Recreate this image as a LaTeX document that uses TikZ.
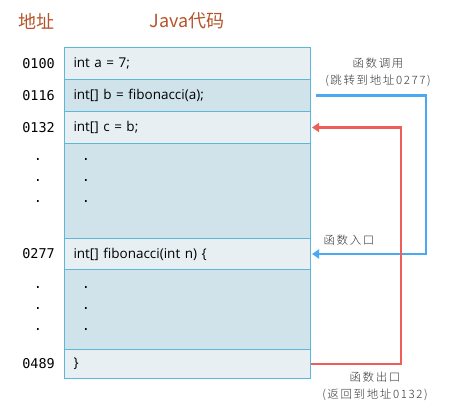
\documentclass[tikz,border=0pt]{standalone}
\usepackage{fontspec}
\setmainfont{Open Sans}
\newfontfamily\cjkfont{Noto Sans CJK SC}
\newfontfamily\notefont[LetterSpace=14]{Noto Sans CJK SC Light}
\newfontfamily\monofont{DejaVu Sans Mono}
\usetikzlibrary{positioning,arrows.meta}

\definecolor{rowlight}{HTML}{E7EFF3}
\definecolor{rowdark}{HTML}{D1E3EA}
\definecolor{rowline}{HTML}{5DB7D6}
\definecolor{callblue}{HTML}{4BA8F2}
\definecolor{retred}{HTML}{EF5F5A}
\definecolor{headbrown}{HTML}{B4542B}

\begin{document}
\begin{tikzpicture}[x=1pt, y=-1pt,
    codeline/.style={draw=rowline, line width=1pt, minimum width=246pt, text width=228pt,
        inner xsep=9pt, inner ysep=0pt, align=left, font=\fontsize{13.5}{15}\selectfont},
    light/.style={fill=rowlight},
    dark/.style={fill=rowdark},
    addr/.style={font=\monofont\fontsize{13.5}{15}\selectfont, inner sep=0pt},
    head/.style={font=\cjkfont\fontsize{18}{20}\selectfont, text=headbrown},
    note/.style={font=\notefont\fontsize{11.5}{17}\selectfont, align=center, text=black!80},
    jump/.style={line width=2.6pt, -{Triangle[length=7pt,width=9pt]}}]
    \useasboundingbox (0,0) rectangle (464,412);

    % code rows
    \node (r0100) [codeline, light, minimum height=32pt, anchor=north west] at (64,47) {int a = 7;};
    \node (r0116) [codeline, dark, minimum height=32pt, below=-1pt of r0100] {int[] b = fibonacci(a);};
    \node (r0132) [codeline, light, minimum height=32pt, below=-1pt of r0116] {int[] c = b;};
    \node (gap1) [codeline, dark, minimum height=95pt, below=-1pt of r0132] {};
    \node (r0277) [codeline, light, minimum height=31pt, below=-1pt of gap1] {int[] fibonacci(int n) \{};
    \node (gap2) [codeline, dark, minimum height=80pt, below=-1pt of r0277] {};
    \node (r0489) [codeline, light, minimum height=29pt, below=-1pt of gap2] {\}};

    % addresses
    \node (a0100) [addr, left=9pt of r0100] {0100};
    \node (a0116) [addr, left=9pt of r0116] {0116};
    \node (a0132) [addr, left=9pt of r0132] {0132};
    \node (a0277) [addr, left=9pt of r0277] {0277};
    \node (a0489) [addr, left=9pt of r0489] {0489};

    % headers
    \node (haddr) [head] at (36,21) {地址};
    \node (hcode) [head] at (187,21) {Java代码};

    % dots
    \foreach \y [count=\i] in {159,180,201,287,308,329} {
        \node (ld\i) [addr] at (38,\y) {.};
        \node (cd\i) [addr] at (86,\y) {.};
    }

    % call and return
    \draw[jump, callblue] ([xshift=5pt]r0116.east) -- ([xshift=115pt]r0116.east) |- ([xshift=1pt]r0277.east);
    \draw[jump, retred] (r0489.east) -- ([xshift=90pt]r0489.east) |- ([xshift=1pt]r0132.east);

    \node (ncall) [note] at (378,72) {函数调用\\(跳转到地址0277)};
    \node (nentry) [note] at (349,240) {函数入口};
    \node (nexit) [note] at (375,386) {函数出口\\(返回到地址0132)};
\end{tikzpicture}
\end{document}
